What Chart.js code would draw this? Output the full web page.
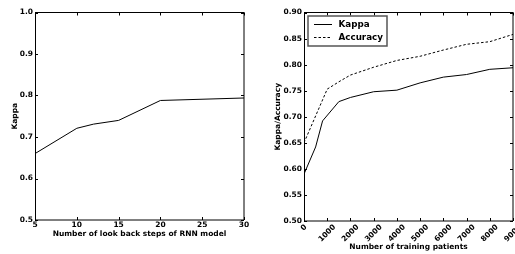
<!DOCTYPE html>
<html><head><meta charset="utf-8">
<script src="https://cdn.jsdelivr.net/npm/chart.js@4"></script>
<style>
html,body{margin:0;padding:0;background:#fff;overflow:hidden;width:515px;height:254px}
#c1{position:absolute;left:0;top:0}
#c2{position:absolute;left:257px;top:0}
</style></head><body>
<canvas id="c1" width="257" height="254"></canvas>
<canvas id="c2" width="258" height="254"></canvas>
<script>
// ---- Data: left panel ----
const lookBackSteps = [5, 10, 12, 15, 20, 30];
const lookBackKappa = [0.660, 0.721, 0.731, 0.740, 0.788, 0.794];
const leftXTicks = [5, 10, 15, 20, 25, 30];
const leftYTicks = [0.5, 0.6, 0.7, 0.8, 0.9, 1.0];

// ---- Data: right panel ----
const kappaPatients = [0, 500, 800, 1500, 2000, 3000, 4000, 5000, 6000, 7000, 8000, 9000];
const kappaValues = [0.590, 0.642, 0.692, 0.729, 0.737, 0.748, 0.751, 0.765, 0.776, 0.781, 0.791, 0.794];
const accuracyPatients = [0, 1000, 1500, 2000, 3000, 4000, 5000, 6000, 7000, 8000, 9000];
const accuracyValues = [0.650, 0.753, 0.767, 0.780, 0.795, 0.808, 0.816, 0.828, 0.839, 0.844, 0.858];
const rightXTicks = [0, 1000, 2000, 3000, 4000, 5000, 6000, 7000, 8000, 9000];
const rightYTicks = [0.50, 0.55, 0.60, 0.65, 0.70, 0.75, 0.80, 0.85, 0.90];

const FONT = '"DejaVu Sans"';
const tickFont = {family: FONT, size: 7.5, weight: 'bold'};

const framePlugin = {
  id: 'frame',
  afterDatasetsDraw(chart) {
    const {ctx, chartArea: a, scales: {x, y}} = chart;
    ctx.save();
    ctx.strokeStyle = '#000';
    ctx.lineWidth = 1;
    ctx.beginPath();
    x.ticks.forEach(t => {
      const px = Math.round(x.getPixelForValue(t.value)) + 0.5;
      ctx.moveTo(px, a.bottom); ctx.lineTo(px, a.bottom - 3);
      ctx.moveTo(px, a.top); ctx.lineTo(px, a.top + 3);
    });
    y.ticks.forEach(t => {
      const py = Math.round(y.getPixelForValue(t.value)) + 0.5;
      ctx.moveTo(a.left, py); ctx.lineTo(a.left + 3, py);
      ctx.moveTo(a.right, py); ctx.lineTo(a.right - 3, py);
    });
    ctx.stroke();
    ctx.beginPath();
    ctx.moveTo(a.left + 0.5, a.bottom); ctx.lineTo(a.left + 0.5, a.top);
    ctx.moveTo(a.left, a.top); ctx.lineTo(a.right, a.top);
    ctx.stroke();
    ctx.beginPath();
    ctx.moveTo(a.left, a.bottom); ctx.lineTo(a.right, a.bottom);
    ctx.moveTo(a.right, a.top); ctx.lineTo(a.right, a.bottom);
    ctx.stroke();
    ctx.restore();
  }
};

const rotLabelsPlugin = {
  id: 'rotLabels',
  afterDraw(chart, args, opts) {
    if (!opts || !opts.enabled) return;
    const {ctx, chartArea: a, scales: {x}} = chart;
    ctx.save();
    ctx.font = 'bold 7.5px ' + FONT;
    ctx.fillStyle = '#000';
    ctx.textAlign = 'center';
    ctx.textBaseline = 'middle';
    x.ticks.forEach(t => {
      const s = String(t.value);
      const w = ctx.measureText(s).width;
      const h = 5.5;
      const bh = (w + h) * Math.SQRT1_2;
      const px = x.getPixelForValue(t.value);
      ctx.save();
      ctx.translate(px, a.bottom + 3 + bh / 2);
      ctx.rotate(-Math.PI / 4);
      ctx.fillText(s, 0, 0);
      ctx.restore();
    });
    ctx.restore();
  }
};

const legendPlugin = {
  id: 'boxLegend',
  afterDraw(chart, args, opts) {
    if (!opts || !opts.enabled) return;
    const {ctx} = chart;
    ctx.save();
    ctx.fillStyle = '#fff';
    ctx.fillRect(51, 16, 79, 30);
    ctx.strokeStyle = '#555';
    ctx.lineWidth = 1.5;
    ctx.strokeRect(51, 16, 79, 30);
    ctx.font = 'bold 8.75px ' + FONT;
    ctx.textBaseline = 'middle';
    ctx.fillStyle = '#000';
    const ys = [24.5, 37.5];
    chart.data.datasets.forEach((ds, i) => {
      ctx.strokeStyle = ds.borderColor;
      ctx.lineWidth = 1;
      ctx.setLineDash(ds.borderDash || []);
      ctx.beginPath();
      ctx.moveTo(57, ys[i]); ctx.lineTo(75, ys[i]);
      ctx.stroke();
      ctx.setLineDash([]);
      ctx.fillText(ds.label, 81.5, ys[i]);
    });
    ctx.restore();
  }
};

function pts(xs, ys) { return xs.map((v, i) => ({x: v, y: ys[i]})); }
const noGrid = {display: false, drawTicks: false};

new Chart(document.getElementById('c1'), {
  type: 'line',
  data: {datasets: [{label: 'Kappa', data: pts(lookBackSteps, lookBackKappa),
    borderColor: '#000', borderWidth: 1, pointRadius: 0, tension: 0, fill: false}]},
  options: {
    responsive: false, animation: false, events: [],
    layout: {padding: {top: 12.5, right: 13, left: 0, bottom: 0}},
    plugins: {legend: {display: false}, tooltip: {enabled: false}},
    scales: {
      x: {type: 'linear', min: 5, max: 30,
        afterBuildTicks: s => { s.ticks = leftXTicks.map(v => ({value: v})); },
        afterFit: s => { s.height = 34; },
        grid: noGrid, border: {display: false},
        ticks: {font: tickFont, color: '#000', padding: 1, maxRotation: 0, autoSkip: false},
        title: {display: true, text: 'Number of look back steps of RNN model', font: tickFont, color: '#000', padding: {top: 0, bottom: 15}}},
      y: {type: 'linear', min: 0.5, max: 1.0,
        afterBuildTicks: s => { s.ticks = leftYTicks.map(v => ({value: v})); },
        afterFit: s => { s.width = 35; },
        grid: noGrid, border: {display: false},
        ticks: {font: tickFont, color: '#000', padding: 2, callback: v => v.toFixed(1)},
        title: {display: true, text: 'Kappa', font: tickFont, color: '#000', padding: {top: 11, bottom: 0}}}
    }
  },
  plugins: [framePlugin]
});

new Chart(document.getElementById('c2'), {
  type: 'line',
  data: {datasets: [
    {label: 'Kappa', data: pts(kappaPatients, kappaValues),
      borderColor: '#000', borderWidth: 1, pointRadius: 0, tension: 0, fill: false},
    {label: 'Accuracy', data: pts(accuracyPatients, accuracyValues),
      borderColor: '#000', borderWidth: 1, borderDash: [2.5, 2], pointRadius: 0, tension: 0, fill: false}
  ]},
  options: {
    responsive: false, animation: false, events: [],
    layout: {padding: {top: 12.5, right: 2, left: 0, bottom: 0}},
    plugins: {legend: {display: false}, tooltip: {enabled: false},
      rotLabels: {enabled: true}, boxLegend: {enabled: true}},
    scales: {
      x: {type: 'linear', min: 0, max: 9000,
        afterBuildTicks: s => { s.ticks = rightXTicks.map(v => ({value: v})); },
        afterFit: s => { s.height = 33; },
        grid: noGrid, border: {display: false},
        ticks: {display: false},
        title: {display: true, text: 'Number of training patients', font: tickFont, color: '#000', padding: {top: 0, bottom: 2}}},
      y: {type: 'linear', min: 0.5, max: 0.9,
        afterBuildTicks: s => { s.ticks = rightYTicks.map(v => ({value: v})); },
        afterFit: s => { s.width = 47; },
        grid: noGrid, border: {display: false},
        ticks: {font: tickFont, color: '#000', padding: 2, callback: v => v.toFixed(2)},
        title: {display: true, text: 'Kappa/Accuracy', font: tickFont, color: '#000', padding: {top: 17, bottom: 0}}}
    }
  },
  plugins: [framePlugin, rotLabelsPlugin, legendPlugin]
});
</script>
</body></html>
